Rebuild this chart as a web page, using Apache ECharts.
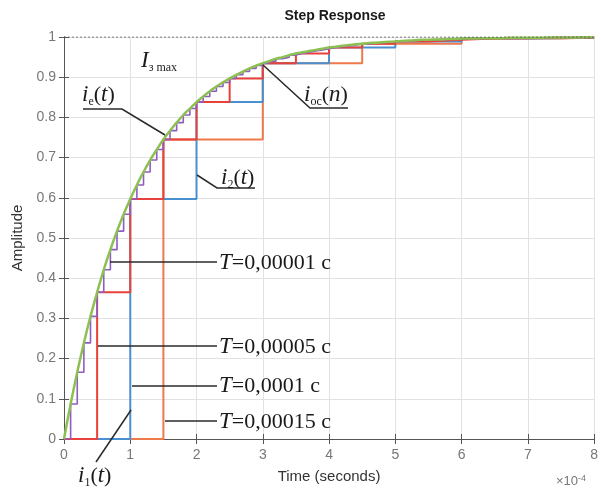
<!DOCTYPE html>
<html>
<head>
<meta charset="utf-8">
<script src="https://cdn.jsdelivr.net/npm/echarts@6/dist/echarts.min.js"></script>
<style>html,body{margin:0;padding:0;background:#fff}#c{width:601px;height:493px}</style>
</head>
<body>
<div id="c"></div>
<script>
// x-axis in units of 1e-4 s
var xTickLabels = ['0','1','2','3','4','5','6','7','8'];
var yTickLabels = ['0','0.1','0.2','0.3','0.4','0.5','0.6','0.7','0.8','0.9','1'];

// fine samples every 0.1 (T = 0,00001 c), also used for the continuous curve i_e(t)
var fineT = 0.1;
var fineVals = [0,0.087,0.166,0.239,0.305,0.365,0.421,0.471,0.517,0.559,
  0.597,0.632,0.664,0.694,0.720,0.745,0.767,0.787,0.806,0.822,
  0.838,0.852,0.865,0.877,0.887,0.897,0.906,0.914,0.922,0.929,
  0.935,0.940,0.946,0.950,0.955,0.959,0.962,0.965,0.968,0.971,
  0.974,0.976,0.978,0.980,0.982,0.983,0.985,0.986,0.987,0.988,
  0.989,0.990,0.991,0.992,0.993,0.993,0.994,0.994,0.995,0.995,
  0.996,0.996,0.996,0.997,0.997,0.997,0.997,0.998,0.998,0.998,
  0.998,0.998,0.998,0.999,0.999,0.999,0.999,0.999,0.999,1.0,1.0];
// T = 0,00005 c
var redT = 0.5;
var redVals = [0,0.365,0.597,0.745,0.838,0.897,0.935,0.959,0.974,0.983,0.989,0.993,0.996,0.997,0.998,0.999,0.999];
// T = 0,0001 c
var blueT = 1;
var blueVals = [0,0.597,0.838,0.935,0.974,0.989,0.996,0.998,0.999];
// T = 0,00015 c
var orangeT = 1.5;
var orangeVals = [0,0.745,0.935,0.983,0.996,0.999];
var steadyState = 1;
var xMax = 8;

function stepData(T, vals){
  var d = vals.map(function(v,k){return [k*T, v];});
  var last = d[d.length-1];
  if (last[0] < xMax) d.push([xMax, last[1]]);
  return d;
}

var chart = echarts.init(document.getElementById('c'), null, {renderer:'canvas'});
var serif = 'Liberation Serif';
var lineCol = '#2a2a2a';
function lbl(text, x, y){
  return {type:'text', x:x, y:y, style:{text:text, font:'22px '+serif, fill:'#1a1a1a', verticalAlign:'middle',
    rich:{
      it:{fontFamily:serif, fontStyle:'italic', fontSize:23, fill:'#1a1a1a'},
      n:{fontFamily:serif, fontSize:22, fill:'#1a1a1a'},
      s:{fontFamily:serif, fontSize:12, fill:'#1a1a1a', verticalAlign:'bottom', padding:[14,0,0,0]}
    }}, z:100};
}
function leader(pts){
  return {type:'polyline', shape:{points:pts}, style:{stroke:lineCol, lineWidth:1.5, fill:null}, z:99};
}

var option = {
  animation:false,
  backgroundColor:'#fff',
  title:{text:'Step Response', left:330, top:4, textAlign:'center',
    textStyle:{fontFamily:'Liberation Sans', fontWeight:'bold', fontSize:14, color:'#1a1a1a'}},
  grid:{left:64, right:5, top:37, bottom:54, show:false},
  xAxis:[{type:'value', min:0, max:xMax, interval:1,
    name:'Time (seconds)', nameLocation:'middle', nameGap:30,
    nameTextStyle:{fontFamily:'Liberation Sans', fontSize:15, color:'#333'},
    axisLine:{lineStyle:{color:'#555', width:1}},
    axisTick:{inside:true, length:5, lineStyle:{color:'#555'}},
    axisLabel:{fontFamily:'Liberation Sans', fontSize:14, color:'#777', margin:9,
      formatter:function(v){return xTickLabels[Math.round(v)];}},
    splitLine:{show:true, lineStyle:{color:'#e2e2e2', width:1}}},
    {type:'value', position:'top', min:0, max:xMax, interval:1,
    axisLine:{lineStyle:{color:'#555'}}, axisTick:{inside:true, length:5, lineStyle:{color:'#555'}},
    axisLabel:{show:false}, splitLine:{show:false}}],
  yAxis:[{type:'value', min:0, max:1, interval:0.1,
    name:'Amplitude', nameLocation:'middle', nameGap:36, nameRotate:90,
    nameTextStyle:{fontFamily:'Liberation Sans', fontSize:15, color:'#333'},
    axisLine:{show:true, lineStyle:{color:'#555', width:1}},
    axisTick:{show:true, inside:true, length:5, lineStyle:{color:'#555'}},
    axisLabel:{fontFamily:'Liberation Sans', fontSize:14, color:'#777', margin:8,
      formatter:function(v){return yTickLabels[Math.round(v*10)];}},
    splitLine:{show:true, lineStyle:{color:'#e2e2e2', width:1}}},
    {type:'value', position:'right', min:0, max:1, interval:0.1,
    axisLine:{show:true, lineStyle:{color:'#555'}}, axisTick:{show:true, inside:true, length:5, lineStyle:{color:'#555'}},
    axisLabel:{show:false}, splitLine:{show:false}}],
  series:[
    {type:'line', name:'T=0,00015', step:'end', symbol:'none', data:stepData(orangeT, orangeVals),
      lineStyle:{color:'#ee7a4c', width:2}, z:2},
    {type:'line', name:'T=0,0001', step:'end', symbol:'none', data:stepData(blueT, blueVals),
      lineStyle:{color:'#4a8fd0', width:2}, z:3},
    {type:'line', name:'T=0,00005', step:'end', symbol:'none', data:stepData(redT, redVals),
      lineStyle:{color:'#e8413a', width:2}, z:4},
    {type:'line', name:'T=0,00001', step:'end', symbol:'none', data:stepData(fineT, fineVals),
      lineStyle:{color:'#8f5cc2', width:1.6}, z:5},
    {type:'line', name:'ie', smooth:true, symbol:'none', data:fineVals.map(function(v,k){return [k*fineT, v];}),
      lineStyle:{color:'#8cc152', width:2.5}, z:6},
    {type:'line', name:'steady', symbol:'none', data:[[0,steadyState],[xMax,steadyState]],
      lineStyle:{color:'#555', width:1.2, type:[2,2]}, z:7}
  ],
  graphic:[
    leader([[83,109],[122,109],[165,135]]),
    leader([[263,65],[310,108],[348,108]]),
    leader([[197,175],[217,188],[255,188]]),
    leader([[110,262],[217,262]]),
    leader([[98,346],[217,346]]),
    leader([[132,386],[217,386]]),
    leader([[165,421],[217,421]]),
    leader([[131,410],[96,462]]),
    lbl('{it|I}{s|з max}', 141, 61),
    lbl('{it|i}{s|e}{n|(}{it|t}{n|)}', 82, 95),
    lbl('{it|i}{s|oc}{n|(}{it|n}{n|)}', 304, 95),
    lbl('{it|i}{s|2}{n|(}{it|t}{n|)}', 221, 178),
    lbl('{it|i}{s|1}{n|(}{it|t}{n|)}', 78, 476),
    lbl('{it|T}{n|=0,00001 c}', 219, 263),
    lbl('{it|T}{n|=0,00005 c}', 219, 347),
    lbl('{it|T}{n|=0,0001 c}', 219, 386),
    lbl('{it|T}{n|=0,00015 c}', 219, 422),
    {type:'text', x:556, y:474, style:{text:'×10{sup|-4}', font:'13px Liberation Sans', fill:'#777',
      rich:{sup:{fontSize:9, fill:'#777', verticalAlign:'top', padding:[0,0,6,0]}}}}
  ]
};
chart.setOption(option);
</script>
</body>
</html>
